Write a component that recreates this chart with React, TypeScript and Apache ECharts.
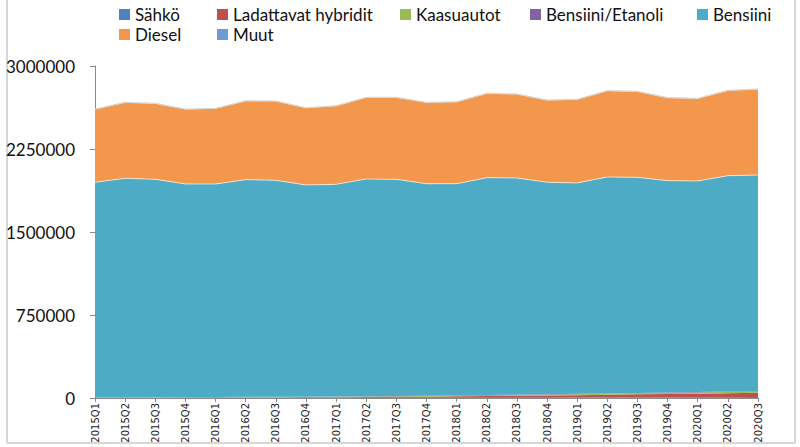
import React, { useEffect, useRef } from "react";
import * as echarts from "echarts";

const categories = [
  "2015Q1", "2015Q2", "2015Q3", "2015Q4",
  "2016Q1", "2016Q2", "2016Q3", "2016Q4",
  "2017Q1", "2017Q2", "2017Q3", "2017Q4",
  "2018Q1", "2018Q2", "2018Q3", "2018Q4",
  "2019Q1", "2019Q2", "2019Q3", "2019Q4",
  "2020Q1", "2020Q2", "2020Q3",
];

const sahko = [300, 400, 500, 600, 700, 800, 900, 1000, 1200, 1400, 1600, 1900, 2200, 2500, 2800, 3200, 3700, 4300, 4900, 5600, 6600, 7700, 9000];
const ladattavat = [1200, 1500, 1900, 2300, 2800, 3400, 4100, 4800, 5900, 7300, 8800, 10500, 12500, 14800, 17000, 19500, 22000, 25000, 28000, 30500, 32500, 35000, 38000];
const kaasu = [3000, 3200, 3400, 3600, 3800, 4000, 4200, 4400, 4700, 5000, 5300, 5600, 6000, 6400, 6800, 7300, 7800, 8300, 8900, 9500, 10100, 10800, 11500];
const etanoli = [1500, 1600, 1700, 1800, 1900, 2000, 2100, 2200, 2300, 2500, 2700, 2900, 3100, 3300, 3500, 3700, 3900, 4100, 4300, 4500, 4700, 4900, 5100];
const bensiini = [1943000, 1978300, 1968500, 1925700, 1924800, 1962800, 1955700, 1912600, 1916900, 1962800, 1957600, 1915100, 1912200, 1964000, 1957900, 1916300, 1905600, 1955300, 1947900, 1913900, 1907100, 1950600, 1951400];
const diesel = [661000, 686000, 686000, 676000, 683000, 712000, 716000, 697000, 709000, 737000, 740000, 735000, 740000, 761000, 758000, 742000, 755000, 779000, 776000, 749000, 746000, 770000, 776000];
const muut = [1300, 1300, 1300, 1300, 1300, 1300, 1400, 1400, 1400, 1400, 1400, 1400, 1400, 1500, 1500, 1500, 1500, 1500, 1500, 1500, 1600, 1600, 1600];

const yTicks = [0, 750000, 1500000, 2250000, 3000000];

const seriesDefs = [
  { name: "Sähkö", data: sahko, color: "#4F81BD" },
  { name: "Ladattavat hybridit", data: ladattavat, color: "#C0504D" },
  { name: "Kaasuautot", data: kaasu, color: "#9BBB59" },
  { name: "Bensiini/Etanoli", data: etanoli, color: "#8064A2" },
  { name: "Bensiini", data: bensiini, color: "#4EABC6" },
  { name: "Diesel", data: diesel, color: "#F3974D" },
  { name: "Muut", data: muut, color: "#6E9BD2" },
];

const legendPos = [
  { left: 119, top: 6 },
  { left: 217, top: 6 },
  { left: 400, top: 6 },
  { left: 530, top: 6 },
  { left: 697, top: 6 },
  { left: 119, top: 26 },
  { left: 217, top: 26 },
];

export default function App() {
  const ref = useRef<HTMLDivElement>(null);
  useEffect(() => {
    const chart = echarts.init(ref.current!, null, { renderer: "svg" });
    chart.setOption({
      animation: false,
      backgroundColor: "#ffffff",
      color: seriesDefs.map((s) => s.color),
      legend: seriesDefs.map((s, i) => ({
        data: [s.name],
        left: legendPos[i].left,
        top: legendPos[i].top,
        padding: 0,
        icon: "rect",
        itemWidth: 11,
        itemHeight: 11,
        selectedMode: false,
        textStyle: { fontFamily: "Lato", fontSize: 17, color: "#111" },
      })),
      grid: { left: 95, right: 42, top: 66, bottom: 49, containLabel: false },
      xAxis: {
        type: "category",
        data: categories,
        boundaryGap: false,
        axisLine: { show: true, lineStyle: { color: "#8a8a8a", width: 1 } },
        axisTick: { show: true, interval: 0, length: 4, lineStyle: { color: "#8a8a8a" } },
        axisLabel: {
          interval: 0,
          rotate: 90,
          margin: 5,
          fontFamily: "DejaVu Sans",
          fontSize: 10,
          color: "#222",
        },
        splitLine: { show: false },
      },
      yAxis: {
        type: "value",
        min: yTicks[0],
        max: yTicks[yTicks.length - 1],
        interval: yTicks[1] - yTicks[0],
        axisLine: { show: true, lineStyle: { color: "#8a8a8a", width: 1 } },
        axisTick: { show: true, length: 5, lineStyle: { color: "#8a8a8a" } },
        axisLabel: {
          margin: 20,
          fontFamily: "Lato",
          fontSize: 17,
          color: "#111",
          formatter: (v: number) => String(v),
        },
        splitLine: { show: false },
      },
      graphic: [
        { type: "line", shape: { x1: 7, y1: 0, x2: 7, y2: 443 }, style: { stroke: "#c8c8c8", lineWidth: 1.5 } },
        { type: "line", shape: { x1: 795, y1: 0, x2: 795, y2: 443 }, style: { stroke: "#c8c8c8", lineWidth: 1.5 } },
        { type: "line", shape: { x1: 7, y1: 443, x2: 795, y2: 443 }, style: { stroke: "#c8c8c8", lineWidth: 1.5 } },
      ],
      series: seriesDefs.map((s, i) => ({
        name: s.name,
        type: "line",
        stack: "total",
        data: s.data,
        symbol: "none",
        color: s.color,
        lineStyle: {
          width: i < 4 ? 0 : 1,
          color: i === seriesDefs.length - 1 ? "#d6d6d6" : "rgba(255,255,255,0.65)",
        },
        areaStyle: { color: s.color, opacity: 1 },
      })),
    });
    return () => chart.dispose();
  }, []);
  return (
    <div
      ref={ref}
      style={{ position: "fixed", left: 0, top: 0, width: 800, height: 447, background: "#fff" }}
    />
  );
}
